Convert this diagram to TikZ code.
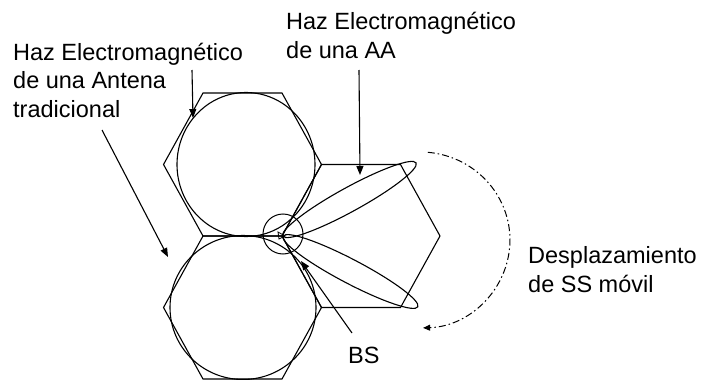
\documentclass[tikz,border=0pt]{standalone}
\usepackage{fontspec}
\setmainfont{Liberation Sans}
\usetikzlibrary{arrows.meta, shapes.geometric}

\begin{document}
\begin{tikzpicture}[
  x=1pt, y=-1pt,
  cell/.style={draw, line width=1.1pt},
  beam/.style={draw, line width=1.1pt},
  lbl/.style={anchor=base west, inner sep=0pt, align=left, font=\fontsize{23.5}{28.5}\selectfont},
  arr/.style={draw, line width=1.1pt, -{Triangle[length=9pt, width=7pt]}},
  route/.style={draw, line width=1pt, dash pattern=on 7pt off 3pt on 1.5pt off 3pt, -{Triangle[length=7pt, width=6pt]}}
]
\fill[white] (0,0) rectangle (702,380);
\useasboundingbox (0,0) rectangle (702,380);

% three hexagonal cells around the base station
\coordinate (cellA) at (242.5,164.5);
\coordinate (cellB) at (242.5,307.5);
\coordinate (cellC) at (361,236);
\foreach \c in {cellA, cellB, cellC}
  \draw[cell, shift={(\c)}] (-39.5,-71.5) -- (39.5,-71.5) -- (79,0) -- (39.5,71.5) -- (-39.5,71.5) -- (-79,0) -- cycle;

% traditional antenna coverage
\node[ellipse, draw, line width=1.1pt, inner sep=0pt, minimum width=138pt, minimum height=144pt] (covA) at (246,164.5) {};
\node[ellipse, draw, line width=1.1pt, inner sep=0pt, minimum width=146pt, minimum height=144pt] (covB) at (243,307.5) {};

% base station
\node[circle, draw, line width=1pt, inner sep=0pt, minimum size=40pt] (bsZone) at (283,234) {};
\draw[line width=0.8pt] (278,232) -- (285,236) -- (279,239) -- cycle;

% smart antenna beams
\draw[beam, rotate around={28.8:(349.5,199.5)}] (349.5,199.5) ellipse [x radius=76, y radius=12];
\draw[beam, rotate around={-27.7:(350.5,271.5)}] (350.5,271.5) ellipse [x radius=76, y radius=12];

% labels (base = last line)
\node[lbl] (trad) at (13,117) {Haz Electromagnético\\de una Antena\\tradicional};
\node[lbl] (aa) at (286,58) {Haz Electromagnético\\de una AA};
\node[lbl] (bsTxt) at (348,363) {BS};
\node[lbl] (moveTxt) at (528,292) {Desplazamiento\\de SS móvil};

% pointers
\coordinate (tradTail1) at (192,70);
\coordinate (tradHead1) at (193,118);
\coordinate (tradTail2) at (102,130);
\coordinate (tradHead2) at (168,257);
\coordinate (aaTail) at (359,70);
\coordinate (aaHead) at (360,175);
\coordinate (bsTail) at (352,333);
\coordinate (bsHead) at (301,261);
\draw[arr] (tradTail1) -- (tradHead1);
\draw[arr] (tradTail2) -- (tradHead2);
\draw[arr] (aaTail) -- (aaHead);
\draw[arr] (bsTail) -- (bsHead);

% mobile SS path
\draw[route] (427.8,152.3) arc[start angle=-85, end angle=88, x radius=90, y radius=88];
\end{tikzpicture}
\end{document}
